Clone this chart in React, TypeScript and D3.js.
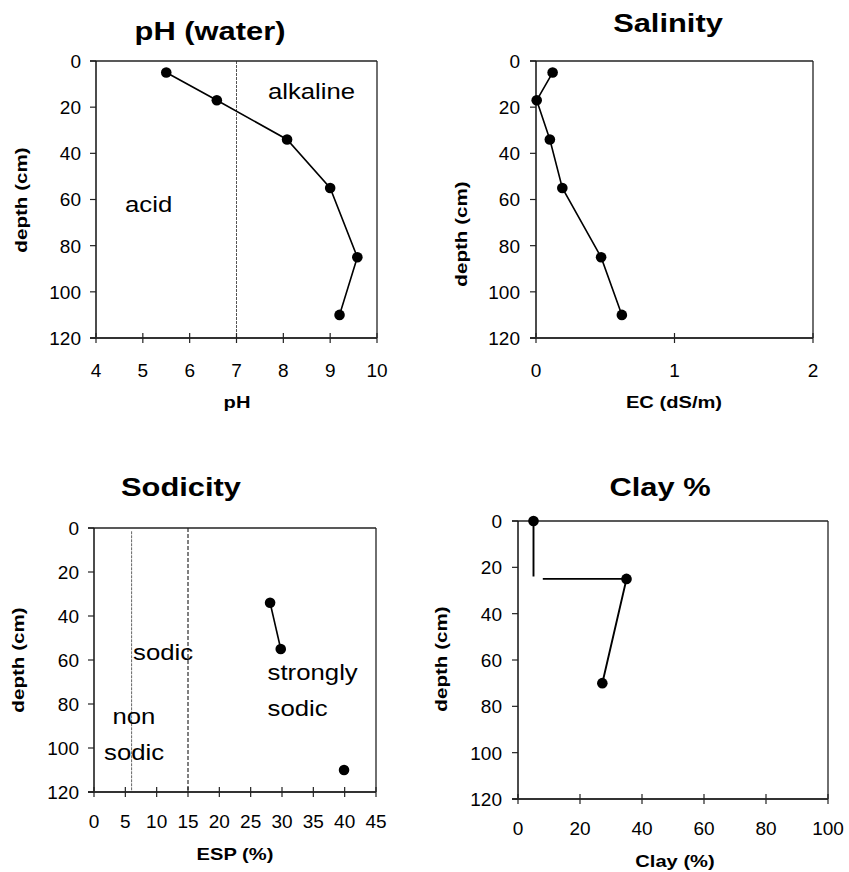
import React from "react";
import * as d3 from "d3";

// ---- data ----
const depths = [5, 17, 34, 55, 85, 110];
const phValues = [5.5, 6.58, 8.08, 9.0, 9.58, 9.2];
const ecValues = [0.12, 0.005, 0.1, 0.19, 0.47, 0.62];
const espValues: (number | null)[] = [null, null, 28.1, 29.8, null, 39.9];
const clayDepths: (number | null)[] = [0, 24, null, 25, 25, 70];
const clayValues: (number | null)[] = [5, 5, null, 8, 35, 27.2];
const clayMarkers = [true, false, false, false, true, true];

const depthTicks = [0, 20, 40, 60, 80, 100, 120];
const phTicks = [4, 5, 6, 7, 8, 9, 10];
const ecTicks = [0, 1, 2];
const espTicks = [0, 5, 10, 15, 20, 25, 30, 35, 40, 45];
const clayTicks = [0, 20, 40, 60, 80, 100];

const FONT = "'Liberation Sans', Arial, sans-serif";

type Note = { text: string; x: number; y: number };
type Ref = { x: number; y0: number; color: string; dash: string };

type PanelProps = {
  box: { l: number; r: number; t: number; b: number };
  xDomain: [number, number];
  xTicks: number[];
  xVals: (number | null)[];
  yVals: (number | null)[];
  markers?: boolean[];
  lineWidth?: number;
  title: string;
  titlePos: [number, number];
  xLabel: string;
  xLabelPos: [number, number];
  yLabelPos: [number, number];
  yTickEnd: number;
  xTickBase: number;
  notes?: Note[];
  refs?: Ref[];
};

function SText({ x, y, size, sx, bold, anchor, rotate, children }: any) {
  const tr = `translate(${x},${y})${rotate ? ` rotate(${rotate})` : ""} scale(${sx},1)`;
  return (
    <text
      transform={tr}
      fontSize={size}
      fontFamily={FONT}
      fontWeight={bold ? "bold" : "normal"}
      textAnchor={anchor || "start"}
      fill="#000"
    >
      {children}
    </text>
  );
}

function Panel(p: PanelProps) {
  const { box } = p;
  const x = d3.scaleLinear().domain(p.xDomain).range([box.l, box.r]);
  const y = d3.scaleLinear().domain([0, 120]).range([box.t, box.b]);
  const pts = p.xVals.map((v, i) => ({ v, d: p.yVals[i] }));
  const line = d3
    .line<{ v: number | null; d: number | null }>()
    .defined((q) => q.v != null && q.d != null)
    .x((q) => x(q.v as number))
    .y((q) => y(q.d as number));
  return (
    <g>
      {/* reference lines */}
      {(p.refs || []).map((r, i) => (
        <line
          key={"r" + i}
          x1={x(r.x)}
          x2={x(r.x)}
          y1={y(r.y0)}
          y2={box.b}
          stroke={r.color}
          strokeWidth={1}
          strokeDasharray={r.dash}
        />
      ))}
      {/* frame */}
      <line x1={box.l - 6} x2={box.r} y1={box.t} y2={box.t} stroke="#222" strokeWidth={1.3} />
      <line x1={box.r} x2={box.r} y1={box.t} y2={box.b} stroke="#222" strokeWidth={1.3} />
      <line x1={box.l} x2={box.l} y1={box.t} y2={box.b} stroke="#111" strokeWidth={1.5} />
      <line x1={box.l - 6} x2={box.r} y1={box.b} y2={box.b} stroke="#333" strokeWidth={2} />
      {/* y ticks */}
      {depthTicks.map((t) => (
        <g key={"y" + t}>
          <line x1={box.l - 6} x2={box.l} y1={y(t)} y2={y(t)} stroke="#222" strokeWidth={1.2} />
          <text
            x={p.yTickEnd}
            y={y(t)}
            dy="0.36em"
            fontSize={19}
            fontFamily={FONT}
            textAnchor="end"
            fill="#000"
          >
            {t}
          </text>
        </g>
      ))}
      {/* x ticks */}
      {p.xTicks.map((t) => (
        <g key={"x" + t}>
          <line x1={x(t)} x2={x(t)} y1={box.b - 5} y2={box.b + 5} stroke="#222" strokeWidth={1.2} />
          <text
            x={x(t)}
            y={p.xTickBase}
            fontSize={19}
            fontFamily={FONT}
            textAnchor="middle"
            fill="#000"
          >
            {t}
          </text>
        </g>
      ))}
      {/* data line */}
      <path d={line(pts) || ""} fill="none" stroke="#000" strokeWidth={p.lineWidth || 1.6} />
      {pts.map((q, i) =>
        q.v != null && q.d != null && (!p.markers || p.markers[i]) ? (
          <circle key={"c" + i} cx={x(q.v)} cy={y(q.d)} r={5.3} fill="#000" />
        ) : null
      )}
      {/* notes */}
      {(p.notes || []).map((n, i) => (
        <SText key={"n" + i} x={x(n.x)} y={y(n.y)} size={23} sx={1.12}>
          {n.text}
        </SText>
      ))}
      {/* titles and labels */}
      <SText x={p.titlePos[0]} y={p.titlePos[1]} size={25.5} sx={1.21} bold anchor="middle">
        {p.title}
      </SText>
      <SText x={p.xLabelPos[0]} y={p.xLabelPos[1]} size={16.5} sx={1.22} bold anchor="middle">
        {p.xLabel}
      </SText>
      <SText
        x={p.yLabelPos[0]}
        y={p.yLabelPos[1]}
        size={16.5}
        sx={1.25}
        bold
        anchor="middle"
        rotate={-90}
      >
        depth (cm)
      </SText>
    </g>
  );
}

export default function App() {
  return (
    <svg
      width={849}
      height={872}
      style={{ position: "absolute", left: 0, top: 0, background: "#fff" }}
    >
      <rect width={849} height={872} fill="#fff" />
      <Panel
        box={{ l: 96, r: 377, t: 61, b: 338 }}
        xDomain={[4, 10]}
        xTicks={phTicks}
        xVals={phValues}
        yVals={depths}
        title="pH (water)"
        titlePos={[210, 40]}
        xLabel="pH"
        xLabelPos={[237, 408]}
        yLabelPos={[27, 200]}
        yTickEnd={81}
        xTickBase={377}
        refs={[{ x: 7, y0: 0, color: "#555", dash: "3,1" }]}
        notes={[
          { text: "alkaline", x: 7.67, y: 16.3 },
          { text: "acid", x: 4.62, y: 65.4 },
        ]}
      />
      <Panel
        box={{ l: 536, r: 813, t: 61, b: 338 }}
        xDomain={[0, 2]}
        xTicks={ecTicks}
        xVals={ecValues}
        yVals={depths}
        title="Salinity"
        titlePos={[668, 32]}
        xLabel="EC (dS/m)"
        xLabelPos={[674, 408]}
        yLabelPos={[467, 234]}
        yTickEnd={520}
        xTickBase={377}
      />
      <Panel
        box={{ l: 94, r: 376, t: 528, b: 792 }}
        xDomain={[0, 45]}
        xTicks={espTicks}
        xVals={espValues}
        yVals={depths}
        title="Sodicity"
        titlePos={[181, 496]}
        xLabel="ESP (%)"
        xLabelPos={[235, 860]}
        yLabelPos={[24, 660]}
        yTickEnd={79}
        xTickBase={828}
        refs={[
          { x: 6, y0: 1.5, color: "#666", dash: "3,1" },
          { x: 15, y0: 0, color: "#000", dash: "4,2" },
        ]}
        notes={[
          { text: "sodic", x: 6.23, y: 59.8 },
          { text: "strongly", x: 27.7, y: 69.2 },
          { text: "sodic", x: 27.7, y: 85.5 },
          { text: "non", x: 2.94, y: 89.2 },
          { text: "sodic", x: 1.6, y: 105.6 },
        ]}
      />
      <Panel
        box={{ l: 518, r: 828, t: 521, b: 799 }}
        xDomain={[0, 100]}
        xTicks={clayTicks}
        xVals={clayValues}
        yVals={clayDepths}
        markers={clayMarkers}
        lineWidth={1.9}
        title="Clay %"
        titlePos={[660, 496]}
        xLabel="Clay (%)"
        xLabelPos={[675, 867]}
        yLabelPos={[447, 659]}
        yTickEnd={502}
        xTickBase={835}
      />
    </svg>
  );
}
